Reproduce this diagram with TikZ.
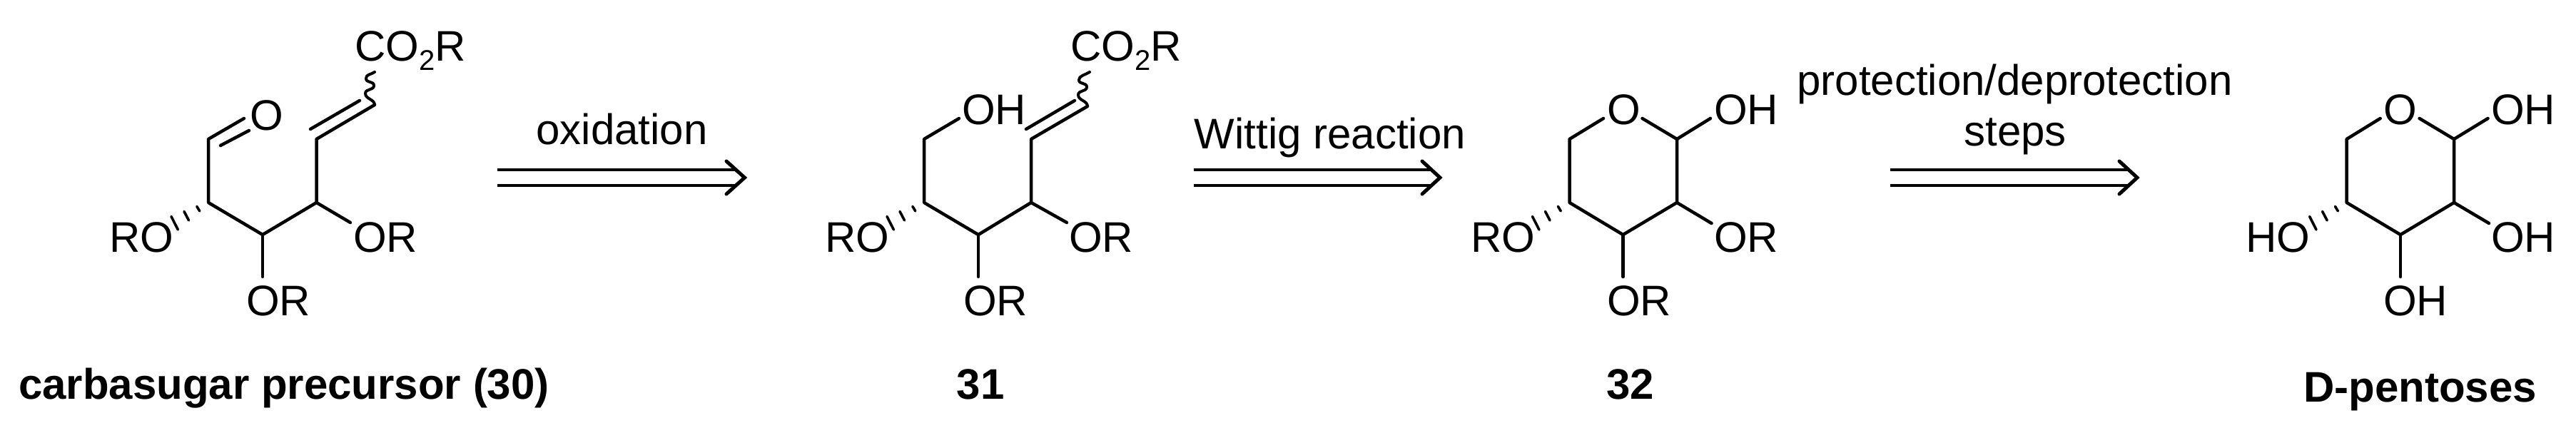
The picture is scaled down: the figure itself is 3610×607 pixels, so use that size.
\documentclass[tikz,border=0pt]{standalone}
\usepackage{fontspec}
\setmainfont{Liberation Sans}
\tikzset{
  lab/.style={anchor=base west,inner sep=0pt,outer sep=0pt,font=\fontsize{60}{66}\selectfont},
  captext/.style={anchor=base,inner sep=0pt,outer sep=0pt,font=\fontsize{60}{66}\selectfont\bfseries},
  mid/.style={anchor=base,inner sep=0pt,outer sep=0pt,font=\fontsize{60}{66}\selectfont},
  bond/.style={line width=4.5pt,line cap=round,line join=round},
  hash/.style={line width=3.6pt,line cap=round},
  wavy/.style={line width=4pt,line cap=round,line join=round},
  arrowline/.style={line width=4.5pt},
  arrowhead/.style={line width=5pt,line join=miter,line cap=round}
}
% three growing strokes from the ring carbon (#1) towards the free end (#2)
\newcommand{\hashbond}[2]{%
  \path (#1) -- (#2)
    coordinate[pos=.30] (hA) coordinate[pos=.65] (hB) coordinate[pos=1] (hC);
  \draw[hash] ([xshift=2pt,yshift=-3.3pt]hA) -- ([xshift=-2pt,yshift=3.3pt]hA);
  \draw[hash] ([xshift=3.3pt,yshift=-6.3pt]hB) -- ([xshift=-3.3pt,yshift=6.3pt]hB);
  \draw[hash] ([xshift=4.7pt,yshift=-9.3pt]hC) -- ([xshift=-4.7pt,yshift=9.3pt]hC);
}
% wavy bond from vinyl carbon (#1) up to free end (#2)
\newcommand{\wavybond}[2]{%
  \draw[wavy] (#1) .. controls +(0,-8) and +(0,8) .. ++(-13,-16)
     .. controls +(0,-7) and +(0,7) .. ++(12,-11)
     .. controls +(0,-7) and +(0,7) .. ++(-11,-10)
     .. controls +(0,-6) and +(-6,4) .. (#2);
}
% double arrow from x=#1 to tip x=#2, barb at x=#3
\newcommand{\dblarrow}[4]{%
  \coordinate (#4s1) at (#1,238); \coordinate (#4e1) at (#3+13,238);
  \coordinate (#4s2) at (#1,260); \coordinate (#4e2) at (#3+13,260);
  \coordinate (#4b1) at (#3,226); \coordinate (#4t) at (#2,249); \coordinate (#4b2) at (#3,272);
  \draw[arrowline] (#4s1) -- (#4e1);
  \draw[arrowline] (#4s2) -- (#4e2);
  \draw[arrowhead] (#4b1) -- (#4t) -- (#4b2);
}
\begin{document}
\begin{tikzpicture}[x=1pt,y=-1pt]
\useasboundingbox (0,0) rectangle (3610,607);
%% ---- molecule 30
\coordinate (a1) at (292,195); \coordinate (a2) at (292,284); \coordinate (a3) at (368,329);
\coordinate (a4) at (443.5,284); \coordinate (a5) at (443.5,195); \coordinate (a6) at (525,147);
\coordinate (a7) at (525,101);
\coordinate (a8) at (342,166); \coordinate (a9) at (309,204); \coordinate (a10) at (349,183);
\coordinate (a11) at (435,181); \coordinate (a12) at (504,141);
\coordinate (a13) at (491,312); \coordinate (a14) at (368,388); \coordinate (a15) at (244.7,312.7);
\draw[bond] (a8) -- (a1) -- (a2) -- (a3) -- (a4) -- (a5) -- (a6);
\draw[bond] (a9) -- (a10);
\draw[bond] (a11) -- (a12);
\draw[bond] (a4) -- (a13);
\draw[bond] (a3) -- (a14);
\hashbond{a2}{a15}
\wavybond{a6}{a7}
\node[lab] (aRO) at (153,353) {RO};
\node[lab] (aOR) at (495,353) {OR};
\node[lab] (aORb) at (345,442) {OR};
\node[lab] (aO) at (350,182) {O};
\node[lab] (aCO) at (497,86) {CO\raisebox{-13pt}{\fontsize{40}{44}\selectfont 2}R};
\node[mid] (arr1t) at (871.5,202) {oxidation};
\dblarrow{697}{1043.5}{1018}{p}
\node[captext] (capA) at (398,559) {carbasugar precursor (30)};
%% ---- molecule 31
\coordinate (b1) at (1295,195); \coordinate (b2) at (1295,284); \coordinate (b3) at (1371,329);
\coordinate (b4) at (1445,284); \coordinate (b5) at (1445,195); \coordinate (b6) at (1524,149);
\coordinate (b7) at (1527,101);
\coordinate (b8) at (1344,166);
\coordinate (b11) at (1438,181); \coordinate (b12) at (1506,141);
\coordinate (b13) at (1495,312); \coordinate (b14) at (1371,388); \coordinate (b15) at (1247.7,312.7);
\draw[bond] (b8) -- (b1) -- (b2) -- (b3) -- (b4) -- (b5) -- (b6);
\draw[bond] (b11) -- (b12);
\draw[bond] (b4) -- (b13);
\draw[bond] (b3) -- (b14);
\hashbond{b2}{b15}
\wavybond{b6}{b7}
\node[lab] (bRO) at (1156,353) {RO};
\node[lab] (bOR) at (1498,353) {OR};
\node[lab] (bORb) at (1350,442) {OR};
\node[lab] (bOH) at (1348,175) {OH};
\node[lab] (bCO) at (1500,86) {CO\raisebox{-13pt}{\fontsize{40}{44}\selectfont 2}R};
\node[mid] (arr2t) at (1864,208) {Wittig reaction};
\dblarrow{1673}{2018}{1993}{q}
\node[captext] (capB) at (1374,559) {31};
%% ---- molecule 32
\coordinate (c1) at (2199.5,195); \coordinate (c2) at (2199.5,284); \coordinate (c3) at (2274.5,329);
\coordinate (c4) at (2350,284); \coordinate (c5) at (2350,195);
\coordinate (c8) at (2247,166); \coordinate (c9) at (2301.5,166); \coordinate (c10) at (2397,166);
\coordinate (c13) at (2398.5,313); \coordinate (c14) at (2274.5,388); \coordinate (c15) at (2152.2,312.7);
\draw[bond] (c8) -- (c1) -- (c2) -- (c3) -- (c4) -- (c5) -- (c9);
\draw[bond] (c5) -- (c10);
\draw[bond] (c4) -- (c13);
\draw[bond] (c3) -- (c14);
\hashbond{c2}{c15}
\node[lab] (cRO) at (2061,353) {RO};
\node[lab] (cOR) at (2402,353) {OR};
\node[lab] (cORb) at (2252,442) {OR};
\node[lab] (cO) at (2252,175) {O};
\node[lab] (cOH) at (2402,175) {OH};
\node[mid] (arr3t) at (2823.5,133) {protection/deprotection};
\node[mid] (arr3u) at (2824,204) {steps};
\dblarrow{2648.5}{2995}{2970}{r}
\node[captext] (capC) at (2284.5,559) {32};
%% ---- D-pentoses
\coordinate (d1) at (3288.6,195); \coordinate (d2) at (3288.6,284); \coordinate (d3) at (3364,329);
\coordinate (d4) at (3439,284); \coordinate (d5) at (3439,195);
\coordinate (d8) at (3335.7,166); \coordinate (d9) at (3390.5,166); \coordinate (d10) at (3486.5,166);
\coordinate (d13) at (3488,313); \coordinate (d14) at (3364,388); \coordinate (d15) at (3241.3,312.7);
\draw[bond] (d8) -- (d1) -- (d2) -- (d3) -- (d4) -- (d5) -- (d9);
\draw[bond] (d5) -- (d10);
\draw[bond] (d4) -- (d13);
\draw[bond] (d3) -- (d14);
\hashbond{d2}{d15}
\node[lab] (dHO) at (3147,353) {HO};
\node[lab] (dOH) at (3491,353) {OH};
\node[lab] (dOHb) at (3340,442) {OH};
\node[lab] (dO) at (3340,175) {O};
\node[lab] (dOHt) at (3491,175) {OH};
\node[captext] (capD) at (3391.5,563) {D-pentoses};
\end{tikzpicture}
\end{document}
